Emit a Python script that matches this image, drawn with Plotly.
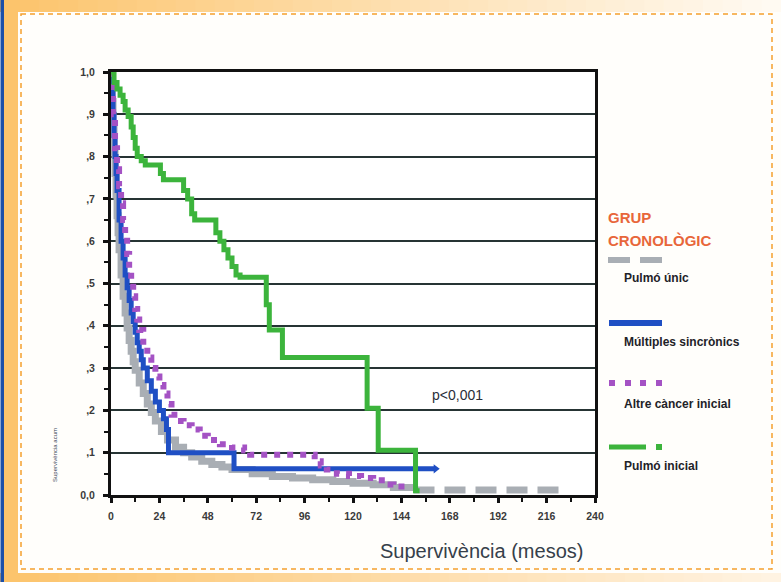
import plotly.graph_objects as go

W, H = 781, 582
L, R, T, B = 111, 595, 72, 495

# ---------------- data ----------------
x_ticks = [0, 24, 48, 72, 96, 120, 144, 168, 192, 216, 240]
y_ticks = [0.0, 0.1, 0.2, 0.3, 0.4, 0.5, 0.6, 0.7, 0.8, 0.9, 1.0]
y_ticktext = ["0,0", ",1", ",2", ",3", ",4", ",5", ",6", ",7", ",8", ",9", "1,0"]

series_names = ["Pulmó únic", "Múltiples sincrònics", "Altre càncer inicial", "Pulmó inicial"]

t_unic = [0, 0.5, 1, 1.5, 2, 2.5, 3, 3.5, 4, 5, 6, 7, 8, 9, 10, 11, 12, 14, 16, 18, 20, 22, 25, 28,
          32, 36, 40, 45, 50, 55, 60, 70, 80, 90, 100, 110, 120, 130, 140, 150, 223]
s_unic = [1.0, 0.93, 0.87, 0.81, 0.76, 0.71, 0.66, 0.62, 0.58, 0.52, 0.47, 0.43, 0.395, 0.365, 0.34,
          0.315, 0.295, 0.265, 0.24, 0.215, 0.195, 0.175, 0.15, 0.13, 0.113, 0.1, 0.09, 0.08, 0.072,
          0.066, 0.06, 0.05, 0.044, 0.04, 0.036, 0.032, 0.028, 0.024, 0.018, 0.012, 0.012]

t_sincr = [0, 0.5, 1, 1.5, 2, 2.5, 3, 4, 5, 6, 7, 8, 9, 10, 11, 12, 13, 14, 15, 16, 18, 20, 22, 24,
           26, 27.5, 28.5, 61, 161]
s_sincr = [1.0, 0.95, 0.9, 0.85, 0.8, 0.76, 0.72, 0.65, 0.6, 0.56, 0.52, 0.49, 0.46, 0.43, 0.41,
           0.385, 0.36, 0.34, 0.32, 0.30, 0.27, 0.245, 0.22, 0.2, 0.18, 0.155, 0.10, 0.062, 0.062]

t_altre = [0, 0.5, 1, 2, 3, 4, 5, 6, 7, 8, 9, 10, 11, 12, 13, 14, 16, 18, 20, 22, 24, 26, 28, 30,
           33, 36, 40, 44, 48, 54, 60, 66, 69, 101, 104, 107, 112, 118, 124, 130, 136, 140, 147]
s_altre = [1.0, 0.95, 0.9, 0.82, 0.77, 0.73, 0.69, 0.65, 0.61, 0.57, 0.535, 0.50, 0.47, 0.44, 0.415,
           0.39, 0.355, 0.325, 0.30, 0.28, 0.26, 0.24, 0.215, 0.19, 0.175, 0.165, 0.155, 0.14, 0.13,
           0.12, 0.112, 0.105, 0.095, 0.08, 0.07, 0.06, 0.05, 0.045, 0.04, 0.035, 0.025, 0.02, 0.02]

t_inicial = [0, 1.5, 3, 4.5, 6, 7, 8.5, 10, 11, 12, 13, 15, 17, 24.5, 26, 36, 38, 40, 41.5, 52, 54,
             56, 58, 60, 62, 64, 77, 78.5, 85, 127, 132.5, 151, 153]
s_inicial = [1.0, 0.975, 0.96, 0.945, 0.93, 0.91, 0.895, 0.87, 0.845, 0.82, 0.80, 0.79, 0.78, 0.76,
             0.745, 0.72, 0.70, 0.665, 0.65, 0.62, 0.60, 0.58, 0.56, 0.54, 0.52, 0.515, 0.45, 0.39,
             0.325, 0.205, 0.106, 0.01, 0.01]

p_text = "p<0,001"

# ---------------- helpers ----------------
def px(x):
    return (x - L) / (R - L)

def py(y):
    return (B - y) / (B - T)

C_GREY = "#a9aeb4"
C_BLUE = "#1f4fc4"
C_PURP = "#a452c4"
C_GREEN = "#3cb43c"

fig = go.Figure()
split = t_unic.index(150)
fig.add_trace(go.Scatter(x=t_unic[:split + 1], y=s_unic[:split + 1], mode="lines",
                         line=dict(shape="hv", color=C_GREY, width=7), name=series_names[0],
                         hoverinfo="skip"))
fig.add_trace(go.Scatter(x=t_unic[split:], y=s_unic[split:], mode="lines",
                         line=dict(shape="hv", color=C_GREY, width=7, dash="21px,10px"),
                         name=series_names[0], hoverinfo="skip"))
fig.add_trace(go.Scatter(x=t_sincr, y=s_sincr, mode="lines",
                         line=dict(shape="hv", color=C_BLUE, width=5), name=series_names[1],
                         hoverinfo="skip"))
# arrow-like end of the blue curve
fig.add_trace(go.Scatter(x=t_sincr[-1:], y=s_sincr[-1:], mode="markers",
                         marker=dict(symbol="triangle-right", size=8, color=C_BLUE),
                         hoverinfo="skip", showlegend=False))
fig.add_trace(go.Scatter(x=t_altre, y=s_altre, mode="lines",
                         line=dict(shape="hv", color=C_PURP, width=6, dash="6px,7px"),
                         name=series_names[2], hoverinfo="skip"))
fig.add_trace(go.Scatter(x=t_inicial, y=s_inicial, mode="lines",
                         line=dict(shape="hv", color=C_GREEN, width=5), name=series_names[3],
                         hoverinfo="skip"))

shapes = []

# frame: gradient bands
def lerp(c1, c2, f):
    a = [int(c1[i:i + 2], 16) for i in (1, 3, 5)]
    b = [int(c2[i:i + 2], 16) for i in (1, 3, 5)]
    return "#%02x%02x%02x" % tuple(round(a[k] + (b[k] - a[k]) * f) for k in range(3))

N = 40
for i in range(N):
    x0 = W * i / N
    x1 = W * (i + 1) / N + 1
    f = i / (N - 1)
    shapes.append(dict(type="rect", xref="paper", yref="paper", x0=px(x0), x1=px(x1),
                       y0=py(0), y1=py(12), fillcolor=lerp("#fcc46c", "#fffaf2", f),
                       line=dict(width=0), layer="below"))
    shapes.append(dict(type="rect", xref="paper", yref="paper", x0=px(x0), x1=px(x1),
                       y0=py(573), y1=py(H), fillcolor=lerp("#fcc46c", "#fff3e2", f),
                       line=dict(width=0), layer="below"))
shapes.append(dict(type="rect", xref="paper", yref="paper", x0=px(4), x1=px(18), y0=py(0), y1=py(H),
                   fillcolor="#fcc46c", line=dict(width=0), layer="below"))
shapes.append(dict(type="rect", xref="paper", yref="paper", x0=px(0.5), x1=px(4), y0=py(0), y1=py(H),
                   fillcolor="#1c4fa8", line=dict(width=0), layer="below"))
shapes.append(dict(type="rect", xref="paper", yref="paper", x0=px(21), x1=px(772), y0=py(14), y1=py(569),
                   fillcolor="rgba(0,0,0,0)", line=dict(color="#f5a02e", width=1.5, dash="5px,4px"),
                   layer="below"))

# legend symbols
LEG = "#e8663a"
shapes.append(dict(type="line", xref="paper", yref="paper", x0=px(608), x1=px(630), y0=py(260), y1=py(260),
                   line=dict(color=C_GREY, width=6)))
shapes.append(dict(type="line", xref="paper", yref="paper", x0=px(640), x1=px(662), y0=py(260), y1=py(260),
                   line=dict(color=C_GREY, width=6)))
shapes.append(dict(type="line", xref="paper", yref="paper", x0=px(609), x1=px(662), y0=py(323), y1=py(323),
                   line=dict(color=C_BLUE, width=6)))
for cx in (612, 628, 643, 659):
    shapes.append(dict(type="rect", xref="paper", yref="paper", x0=px(cx - 3), x1=px(cx + 3),
                       y0=py(386), y1=py(380), fillcolor=C_PURP, line=dict(width=0)))
shapes.append(dict(type="line", xref="paper", yref="paper", x0=px(609), x1=px(646), y0=py(447), y1=py(447),
                   line=dict(color=C_GREEN, width=5)))
shapes.append(dict(type="rect", xref="paper", yref="paper", x0=px(656), x1=px(662), y0=py(450), y1=py(444),
                   fillcolor=C_GREEN, line=dict(width=0)))

TXT = "#1e2228"
LEGF = dict(family="Liberation Sans", size=12, color=TXT, weight="bold")
annotations = [
    dict(text="GRUP", x=px(606), y=py(217), xanchor="left", yanchor="middle",
         font=dict(family="Liberation Sans", size=15, color=LEG, weight="bold")),
    dict(text="CRONOLÒGIC", x=px(606), y=py(240), xanchor="left", yanchor="middle",
         font=dict(family="Liberation Sans", size=15, color=LEG, weight="bold")),
    dict(text=series_names[0], x=px(622), y=py(278), xanchor="left", yanchor="middle", font=LEGF),
    dict(text=series_names[1], x=px(622), y=py(342), xanchor="left", yanchor="middle", font=LEGF),
    dict(text=series_names[2], x=px(622), y=py(404), xanchor="left", yanchor="middle", font=LEGF),
    dict(text=series_names[3], x=px(622), y=py(466), xanchor="left", yanchor="middle", font=LEGF),
    dict(text=p_text, x=px(457), y=py(395), xanchor="center", yanchor="middle",
         font=dict(family="Liberation Sans", size=14, color="#2a2e38")),
    dict(text="Supervivència (mesos)", x=px(481), y=py(551), xanchor="center", yanchor="middle",
         font=dict(family="Liberation Sans", size=20, color="#36404a")),
    dict(text="Supervivència acum", x=px(55), y=py(455), xanchor="center", yanchor="middle",
         textangle=-90, font=dict(family="Liberation Sans", size=6, color="#40485a")),
]
for a in annotations:
    a.update(xref="paper", yref="paper", showarrow=False)

TICKF = dict(family="Liberation Sans", size=10.5, color="#3a3a3a", weight="bold")
GRID = "#263434"

fig.update_layout(
    width=W, height=H,
    margin=dict(l=L, r=W - R, t=T, b=H - B, pad=0),
    paper_bgcolor="#fffefb", plot_bgcolor="#ffffff",
    showlegend=False,
    shapes=shapes, annotations=annotations,
    xaxis=dict(range=[0, 240], tickmode="array", tickvals=x_ticks, ticktext=[str(v) for v in x_ticks],
               showgrid=False, zeroline=False, showline=True, linecolor="#111111", linewidth=3,
               mirror=True, ticks="outside", ticklen=5, tickwidth=3, tickcolor="#111111",
               tickfont=TICKF, ticklabelstandoff=4,
               minor=dict(tick0=12, dtick=24, ticks="outside", ticklen=4, tickwidth=1.5,
                          tickcolor="#111111", showgrid=False)),
    yaxis=dict(range=[0, 1.0], tickmode="array", tickvals=y_ticks, ticktext=y_ticktext,
               showgrid=True, gridcolor=GRID, gridwidth=2, zeroline=False,
               showline=True, linecolor="#111111", linewidth=3, mirror=True,
               ticks="outside", ticklen=5, tickwidth=3, tickcolor="#111111",
               tickfont=TICKF, ticklabelstandoff=6,
               minor=dict(tick0=0.05, dtick=0.1, ticks="outside", ticklen=4, tickwidth=1.5,
                          tickcolor="#111111", showgrid=False)),
)

fig.write_html("out.html", config={"displayModeBar": False},
               post_script="document.body.style.margin='0px';")
